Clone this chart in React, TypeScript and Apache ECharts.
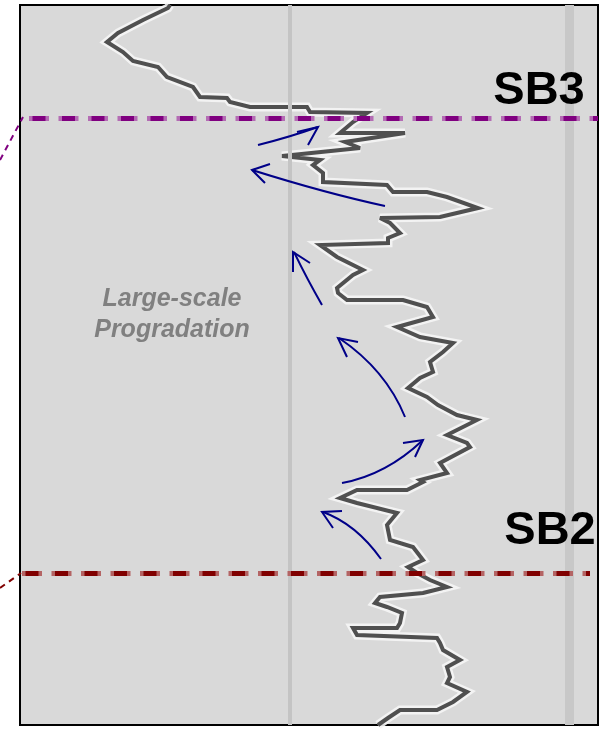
import { useEffect, useRef } from "react";
import * as echarts from "echarts";

// Gamma-ray style log curve: depth (m) and reading (API)
const depthM = [1000, 1003, 1015, 1028, 1037, 1047, 1056, 1062, 1072, 1082, 1092, 1093, 1097, 1102, 1102, 1107, 1108, 1117, 1128, 1128, 1137, 1143, 1151, 1155, 1160, 1168, 1177, 1180, 1187, 1187, 1192, 1203, 1212, 1213, 1218, 1228, 1233, 1238, 1240, 1252, 1265, 1270, 1283, 1288, 1295, 1295, 1302, 1312, 1322, 1332, 1338, 1347, 1357, 1367, 1373, 1383, 1392, 1400, 1410, 1415, 1430, 1438, 1442, 1458, 1468, 1475, 1477, 1485, 1485, 1493, 1498, 1508, 1520, 1535, 1542, 1555, 1562, 1568, 1575, 1582, 1588, 1592, 1598, 1602, 1608, 1618, 1623, 1623, 1630, 1633, 1638, 1645, 1655, 1662, 1672, 1678, 1687, 1697, 1705, 1705, 1713, 1720];
const grApi = [37.5, 37, 30.75, 24.5, 21.75, 25.75, 28.25, 34.5, 36.75, 43.25, 45, 51.75, 52.5, 57.5, 71.75, 72.5, 86.75, 83.25, 80, 96.25, 81.25, 85, 65.5, 75, 73.25, 75.75, 75.75, 91.75, 93.25, 101.75, 106.75, 114.5, 105, 90, 92.5, 95, 92, 92, 75, 79.25, 85.75, 83.25, 79.25, 79.5, 81.75, 95.75, 101.75, 103.25, 94.25, 100, 108.25, 105.75, 102.5, 103.25, 100, 97, 101.75, 104.5, 109.25, 114.25, 106.75, 111.75, 112.5, 105, 106.75, 100, 100.75, 96.75, 84.25, 80, 84.25, 94.25, 91.75, 92.5, 98.25, 100.75, 97, 99.25, 102.5, 106.75, 100.75, 90, 88.75, 91.75, 95.5, 95, 94.25, 83.25, 84.25, 104.25, 105, 105.75, 110, 106.75, 107.5, 106.75, 111.75, 108.25, 104.25, 95, 92, 89.5];

// Sequence boundaries
const sbNames = ["SB3", "SB2"];
const sbDepths = [1113, 1568];
const sbEndGr = [144.5, 142.5];
const sbStartGr = [2.25, 0.5];

// Track reference lines (API)
const trackLines = [67.5, 137.4];

const annotationLines = ["Large-scale", "Progradation"];

const depthMin = 1000;
const depthMax = 1720;
const grMin = 0;
const grMax = 144.5;

export default function App() {
  const ref = useRef<HTMLDivElement>(null);
  useEffect(() => {
    if (!ref.current) return;
    const chart = echarts.init(ref.current, null, { renderer: "svg" });
    const curve = depthM.map((d, i) => [grApi[i], d]);
    const sbColors = [
      { light: "#b46cb4", dark: "#800080" },
      { light: "#b46464", dark: "#800000" },
    ];
    const sbMark: any[] = [];
    sbNames.forEach((_, i) => {
      sbMark.push([
        {
          coord: [sbStartGr[i], sbDepths[i]],
          lineStyle: { color: sbColors[i].light, width: 5, type: [20, 9.5], dashOffset: 0 },
        },
        { coord: [sbEndGr[i], sbDepths[i]] },
      ]);
      sbMark.push([
        {
          coord: [sbStartGr[i], sbDepths[i]],
          lineStyle: { color: sbColors[i].dark, width: 5, type: [13, 16.5], dashOffset: 26 },
        },
        { coord: [sbEndGr[i], sbDepths[i]] },
      ]);
    });

    const navy = "#000088";
    const arrowStyle = { stroke: navy, lineWidth: 2, fill: null };
    const curves = [
      { x1: 258, y1: 145, x2: 318, y2: 127, cpx1: 290, cpy1: 137 },
      { x1: 385, y1: 206, x2: 252, y2: 170, cpx1: 325, cpy1: 193 },
      { x1: 322, y1: 305, x2: 294, y2: 252, cpx1: 306, cpy1: 277 },
      { x1: 405, y1: 417, x2: 339, y2: 338, cpx1: 386, cpy1: 370 },
      { x1: 342, y1: 483, x2: 423, y2: 440, cpx1: 386, cpy1: 475 },
      { x1: 381, y1: 559, x2: 323, y2: 512, cpx1: 356, cpy1: 524 },
    ];
    const heads = [
      [[297, 132], [318, 127], [308, 145]],
      [[270, 164], [252, 170], [265, 183]],
      [[310, 263], [293, 252], [293, 272]],
      [[358, 342], [338, 338], [347, 357]],
      [[403, 443], [423, 440], [415, 457]],
      [[342, 511], [322, 512], [333, 528]],
    ];

    const graphics: any[] = [];
    curves.forEach((c, i) => {
      graphics.push({ type: "bezierCurve", shape: c, style: arrowStyle, z: 100 });
      graphics.push({ type: "polyline", shape: { points: heads[i] }, style: arrowStyle, z: 100 });
    });
    graphics.push({
      type: "text",
      x: 539,
      y: 111,
      style: { text: sbNames[0], font: "bold 47px 'Liberation Sans', Arial, sans-serif", fill: "#000", align: "center", verticalAlign: "bottom" },
      z: 100,
    });
    graphics.push({
      type: "text",
      x: 550,
      y: 551,
      style: { text: sbNames[1], font: "bold 47px 'Liberation Sans', Arial, sans-serif", fill: "#000", align: "center", verticalAlign: "bottom" },
      z: 100,
    });
    graphics.push({
      type: "text",
      x: 172,
      y: 297,
      style: { text: annotationLines[0], font: "italic bold 25px 'Liberation Sans', Arial, sans-serif", fill: "#808080", align: "center", verticalAlign: "middle" },
      z: 100,
    });
    graphics.push({
      type: "text",
      x: 172,
      y: 328,
      style: { text: annotationLines[1], font: "italic bold 25px 'Liberation Sans', Arial, sans-serif", fill: "#808080", align: "center", verticalAlign: "middle" },
      z: 100,
    });
    // connectors to adjacent panel (outside the track)
    graphics.push({ type: "line", shape: { x1: 0, y1: 160, x2: 23, y2: 117 }, style: { stroke: "#800080", lineWidth: 2, lineDash: [6, 5] }, z: 100 });
    graphics.push({ type: "line", shape: { x1: 0, y1: 588, x2: 21, y2: 573 }, style: { stroke: "#800000", lineWidth: 2, lineDash: [6, 5] }, z: 100 });

    chart.setOption({
      animation: false,
      grid: {
        left: 20,
        top: 5,
        width: 578,
        height: 720,
        show: true,
        backgroundColor: "#d9d9d9",
        borderColor: "#000",
        borderWidth: 2,
      },
      xAxis: {
        type: "value",
        min: grMin,
        max: grMax,
        show: false,
        splitLine: { show: false },
      },
      yAxis: {
        type: "value",
        min: depthMin,
        max: depthMax,
        inverse: true,
        show: false,
        splitLine: { show: false },
      },
      series: [
        {
          type: "line",
          data: [],
          z: 1,
          silent: true,
          markLine: {
            symbol: "none",
            silent: true,
            label: { show: false },
            data: [
              { xAxis: trackLines[0], lineStyle: { color: "#c4c4c4", width: 4, type: "solid" } },
              { xAxis: trackLines[1], lineStyle: { color: "#c8c8c8", width: 9, type: "solid" } },
            ],
          },
        },
        {
          type: "line",
          data: curve,
          z: 2,
          symbol: "none",
          silent: true,
          lineStyle: { color: "rgba(245,245,245,0.9)", width: 9, join: "miter" },
        },
        {
          type: "line",
          data: curve,
          z: 3,
          symbol: "none",
          silent: true,
          lineStyle: { color: "#505050", width: 4, join: "miter" },
        },
        {
          type: "line",
          data: [],
          z: 4,
          silent: true,
          markLine: {
            symbol: "none",
            silent: true,
            label: { show: false },
            data: sbMark,
          },
        },
      ],
      graphic: graphics,
    });
    return () => chart.dispose();
  }, []);
  return <div ref={ref} style={{ position: "fixed", left: 0, top: 0, width: 614, height: 733 }} />;
}
